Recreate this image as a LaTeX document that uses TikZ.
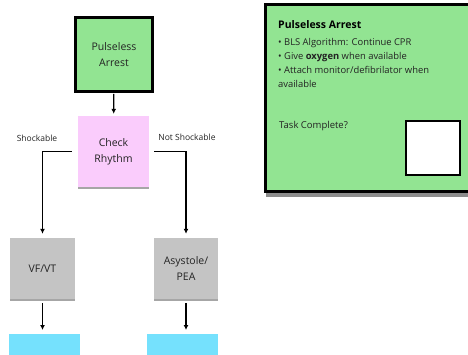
\documentclass[tikz,border=0pt]{standalone}
\usepackage{fontspec}
\setmainfont{Open Sans}
\usetikzlibrary{arrows.meta,shadows}
\definecolor{boxgreen}{RGB}{146,228,146}
\definecolor{boxpink}{RGB}{250,204,252}
\definecolor{boxgray}{RGB}{196,196,196}
\definecolor{boxcyan}{RGB}{117,225,253}
\definecolor{txt}{RGB}{35,35,35}
\tikzset{
  box/.style={rectangle, inner sep=0pt, align=center, text=txt,
    font=\fontsize{10.5}{16}\selectfont},
  shade box/.style={box, drop shadow={shadow xshift=0pt, shadow yshift=-2pt, opacity=0.35, fill=black}},
  arr/.style={line width=1.4pt, -{Latex[length=5pt,width=5pt]}, shorten >=4pt, shorten <=4pt},
  elbow/.style={line width=1.4pt, -{Latex[length=5pt,width=5pt]}, shorten >=4pt},
  lbl/.style={text=txt, font=\fontsize{8.5}{10}\selectfont, inner sep=0pt},
  frame/.style={draw=black, line width=3pt}
}
\begin{document}
\begin{tikzpicture}[x=1pt,y=-1pt]
\useasboundingbox (0,0) rectangle (468,355);
\fill[white] (0,0) rectangle (468,355);
% right panel
\fill[black!45] (266,192) rectangle (468,197);
\fill[boxgreen] (265,5) rectangle (468,192);
\draw[frame, line cap=rect] (468,5) -- (265,5) -- (265,192) -- (468,192);
\node[anchor=west, inner sep=0pt, font=\fontsize{10.5}{12}\bfseries\selectfont, text=black] (ptitle) at (278,25) {Pulseless Arrest};
\node[anchor=north west, inner sep=0pt, align=left, text=txt, font=\fontsize{9.4}{14}\selectfont] (plist) at (278,38)
  {• BLS Algorithm: Continue CPR\\• Give \textbf{oxygen} when available\\• Attach monitor/defibrilator when\\available};
\node[anchor=west, inner sep=0pt, text=txt, font=\fontsize{9.5}{12}\selectfont] (task) at (279,126) {Task Complete?};
\node[draw=black, line width=2.2pt, fill=white, minimum width=54pt, minimum height=54pt, inner sep=0pt] (check) at (433,148) {};
% flowchart
\node[box, draw=black, line width=3pt, fill=boxgreen, minimum width=77pt, minimum height=74pt,
  drop shadow={shadow xshift=0pt, shadow yshift=-2pt, opacity=0.3}] (start) at (114,54.5) {Pulseless\\Arrest};
\node[shade box, fill=boxpink, minimum width=71pt, minimum height=71pt] (rhythm) at (113.5,151.5) {Check\\Rhythm};
\node[shade box, fill=boxgray, minimum width=65pt, minimum height=61pt] (vf) at (42.5,268.5) {VF/VT};
\node[shade box, fill=boxgray, minimum width=64pt, minimum height=61pt] (asy) at (186,268.5) {Asystole/\\PEA};
\node[box, fill=boxcyan, minimum width=71pt, minimum height=21pt, anchor=north] (cl) at (44.5,334) {};
\node[box, fill=boxcyan, minimum width=71pt, minimum height=21pt, anchor=north] (cr) at (182.5,334) {};
\draw[arr, shorten <=1pt, shorten >=2pt] (start) -- (rhythm);
\draw[elbow] ([xshift=-6pt]rhythm.west) -| (vf.north);
\draw[elbow] ([xshift=5pt]rhythm.east) -| (asy.north);
\draw[arr] (vf.south) -- (vf.south |- cl.north);
\draw[arr] (asy.south) -- (asy.south |- cr.north);
\node[lbl] (l1) at (37,138) {Shockable};
\node[lbl] (l2) at (187,137) {Not Shockable};
\end{tikzpicture}
\end{document}
